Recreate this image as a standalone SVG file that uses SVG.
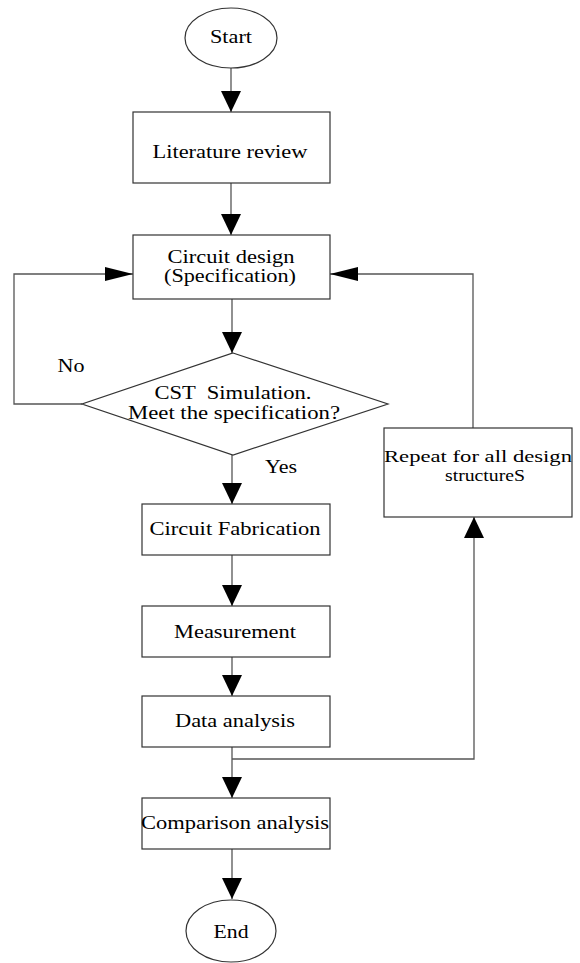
<svg xmlns="http://www.w3.org/2000/svg" width="580" height="963" viewBox="0 0 580 963">
<style>
.shape{fill:#fff;stroke:#333;stroke-width:1.2}
.line{fill:none;stroke:#555;stroke-width:1.3}
text{font-family:"Liberation Serif","Times New Roman",serif;font-size:18px;fill:#000;text-anchor:middle;white-space:pre}
.sm{font-size:16px}
</style>
<defs>
<marker id="av" markerUnits="userSpaceOnUse" markerWidth="22" markerHeight="20" refX="21" refY="10" orient="auto" viewBox="0 0 22 20">
<path d="M0,0 L21,10 L0,20 Z" fill="#000"/>
</marker>
<marker id="ah" markerUnits="userSpaceOnUse" markerWidth="28" markerHeight="14" refX="28" refY="7" orient="auto" viewBox="0 0 28 14">
<path d="M0,0 L28,7 L0,14 Z" fill="#000"/>
</marker>
</defs>
<rect width="580" height="963" fill="#fff"/>
<g id="connectors">
<path class="line" d="M231,68 V112" marker-end="url(#av)"/>
<path class="line" d="M231,183 V235" marker-end="url(#av)"/>
<path class="line" d="M232,299 V353" marker-end="url(#av)"/>
<path class="line" d="M82,404 H14 V274 H133" marker-end="url(#ah)"/>
<path class="line" d="M232,455 V504" marker-end="url(#av)"/>
<path class="line" d="M232,555 V606" marker-end="url(#av)"/>
<path class="line" d="M232,657 V696" marker-end="url(#av)"/>
<path class="line" d="M232,747 V798" marker-end="url(#av)"/>
<path class="line" d="M232,759 H474 V517" marker-end="url(#av)"/>
<path class="line" d="M473,428 V274 H330" marker-end="url(#ah)"/>
<path class="line" d="M232,849 V899" marker-end="url(#av)"/>
<text x="71" y="372" textLength="27" lengthAdjust="spacingAndGlyphs">No</text>
<text x="281" y="473" textLength="32" lengthAdjust="spacingAndGlyphs">Yes</text>
</g>
<g id="start">
<ellipse class="shape" cx="231" cy="38" rx="46" ry="30"/>
<text x="231" y="43" textLength="42" lengthAdjust="spacingAndGlyphs">Start</text>
</g>
<g id="literature">
<rect class="shape" x="133" y="112" width="197" height="71"/>
<text x="230" y="158" textLength="155" lengthAdjust="spacingAndGlyphs">Literature review</text>
</g>
<g id="design">
<rect class="shape" x="133" y="235" width="197" height="64"/>
<text x="231" y="263" textLength="127" lengthAdjust="spacingAndGlyphs">Circuit design</text>
<text x="230" y="282" textLength="132" lengthAdjust="spacingAndGlyphs">(Specification)</text>
</g>
<g id="simulation">
<polygon class="shape" points="233,353 388,404 233,455 82,404"/>
<text x="233" y="399" textLength="157" lengthAdjust="spacingAndGlyphs">CST  Simulation.</text>
<text x="234" y="419" textLength="212" lengthAdjust="spacingAndGlyphs">Meet the specification?</text>
</g>
<g id="fabrication">
<rect class="shape" x="142" y="504" width="188" height="51"/>
<text x="235" y="535" textLength="171" lengthAdjust="spacingAndGlyphs">Circuit Fabrication</text>
</g>
<g id="measurement">
<rect class="shape" x="142" y="606" width="188" height="51"/>
<text x="235" y="638" textLength="122" lengthAdjust="spacingAndGlyphs">Measurement</text>
</g>
<g id="data">
<rect class="shape" x="142" y="696" width="188" height="51"/>
<text x="235" y="727" textLength="120" lengthAdjust="spacingAndGlyphs">Data analysis</text>
</g>
<g id="comparison">
<rect class="shape" x="142" y="798" width="188" height="51"/>
<text x="235" y="829" textLength="188" lengthAdjust="spacingAndGlyphs">Comparison analysis</text>
</g>
<g id="repeat">
<rect class="shape" x="384" y="428" width="188" height="89"/>
<text class="sm" x="478" y="462" textLength="188" lengthAdjust="spacingAndGlyphs">Repeat for all design</text>
<text class="sm" x="485" y="481" textLength="80" lengthAdjust="spacingAndGlyphs">structureS</text>
</g>
<g id="end">
<ellipse class="shape" cx="231" cy="931" rx="45" ry="31"/>
<text x="231" y="938" textLength="35" lengthAdjust="spacingAndGlyphs">End</text>
</g>
</svg>
